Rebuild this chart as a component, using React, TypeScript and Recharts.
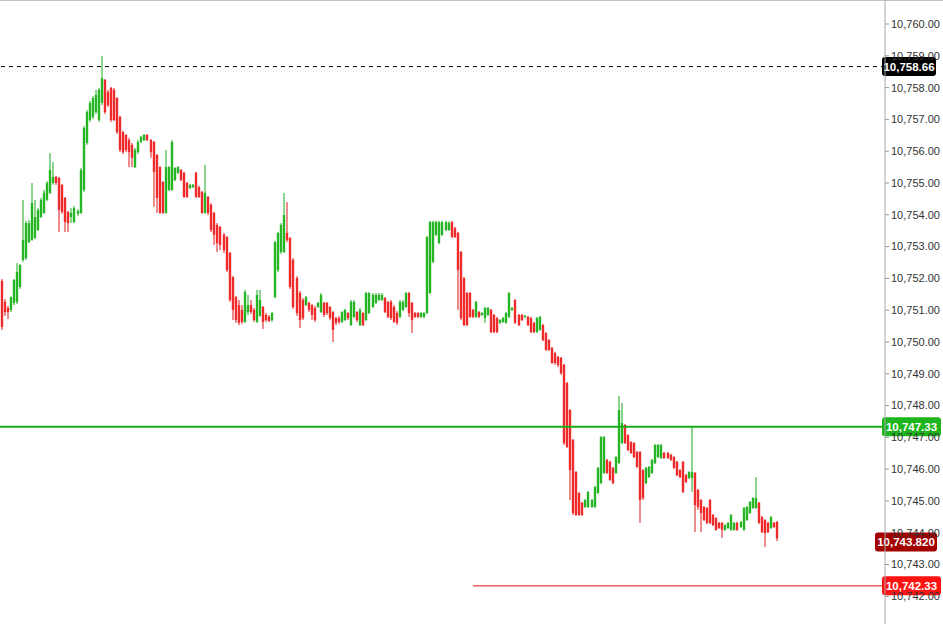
import React from "react";
import { ComposedChart, Bar, XAxis, YAxis, ReferenceLine } from "recharts";

// OHLC, one entry per candle, left to right
const opens = [
  10751.92, 10751.26, 10751.07, 10751.01, 10751.23, 10751.26, 10751.73, 10752.58, 10752.64, 10753.14,
  10753.21, 10753.27, 10753.52, 10753.93, 10754.06, 10754.47, 10754.69, 10755.0, 10755.19, 10755.16,
  10754.94, 10754.53, 10754.09, 10753.93, 10753.77, 10754.03, 10754.06, 10754.78, 10756.26, 10756.98,
  10757.08, 10757.23, 10756.98, 10757.52, 10758.24, 10757.86, 10757.99, 10757.93, 10757.67, 10757.08,
  10756.6, 10756.51, 10756.35, 10756.2, 10755.5, 10755.97, 10756.29, 10756.35, 10756.51, 10756.35,
  10756.29, 10755.88, 10755.5, 10755.03, 10754.06, 10754.78, 10754.78, 10755.09, 10755.32, 10755.41,
  10755.32, 10755.0, 10754.84, 10754.87, 10755.32, 10754.87, 10754.72, 10754.06, 10754.56, 10754.31,
  10754.06, 10753.68, 10753.62, 10753.37, 10753.3, 10752.8, 10752.04, 10751.41, 10751.16, 10751.01,
  10750.63, 10750.94, 10751.16, 10751.01, 10750.63, 10750.82, 10751.1, 10750.85, 10750.79, 10750.69,
  10751.41, 10752.26, 10752.83, 10752.83, 10753.43, 10753.27, 10752.58, 10752.01, 10751.54, 10751.32,
  10751.16, 10751.23, 10751.16, 10751.07, 10751.1, 10750.94, 10751.23, 10751.23, 10751.1, 10750.94,
  10750.75, 10750.75, 10750.63, 10750.69, 10750.91, 10750.53, 10750.79, 10750.94, 10750.53, 10750.91,
  10750.69, 10750.91, 10751.1, 10751.23, 10751.32, 10751.32, 10751.38, 10751.26, 10751.26, 10751.1,
  10750.91, 10750.79, 10751.01, 10751.1, 10751.54, 10751.23, 10750.91, 10750.91, 10750.79, 10750.79,
  10750.91, 10751.54, 10752.52, 10753.37, 10753.11, 10753.37, 10753.52, 10753.52, 10753.77, 10753.58,
  10753.43, 10752.83, 10752.01, 10751.54, 10751.54, 10751.01, 10750.79, 10750.94, 10750.85, 10750.75,
  10750.85, 10751.01, 10750.85, 10750.75, 10750.6, 10750.63, 10750.6, 10750.79, 10751.01, 10751.32,
  10750.85, 10750.85, 10750.79, 10750.79, 10750.75, 10750.6, 10750.31, 10750.38, 10750.53, 10750.28,
  10750.06, 10749.81, 10749.65, 10749.53, 10749.5, 10749.28, 10748.71, 10747.86, 10746.92, 10745.91,
  10745.25, 10744.94, 10744.81, 10744.81, 10744.81, 10744.81, 10745.25, 10745.56, 10745.88, 10746.29,
  10746.23, 10746.04, 10745.88, 10746.19, 10746.82, 10747.39, 10747.07, 10746.85, 10746.82, 10746.54,
  10746.54, 10745.97, 10745.56, 10745.75, 10745.88, 10746.19, 10746.38, 10746.35, 10746.51, 10746.51,
  10746.45, 10746.38, 10746.23, 10745.97, 10746.23, 10745.81, 10745.72, 10745.72, 10745.88, 10745.35,
  10745.03, 10744.81, 10744.78, 10745.03, 10744.56, 10744.46, 10744.31, 10744.31, 10744.09, 10744.15,
  10744.09, 10744.09, 10744.31, 10744.18, 10744.09, 10744.4, 10744.62, 10744.78, 10744.78, 10744.94,
  10744.49, 10744.4, 10744.31, 10744.15, 10744.31, 10744.34,
];

const highs = [
  10751.98, 10751.35, 10751.13, 10751.43, 10751.98, 10752.48, 10752.45, 10754.47, 10753.81, 10753.84,
  10755.0, 10754.47, 10754.21, 10754.53, 10754.78, 10755.06, 10755.94, 10755.66, 10755.22, 10755.19,
  10754.97, 10754.56, 10754.12, 10754.21, 10754.28, 10754.18, 10755.47, 10756.79, 10757.3, 10757.58,
  10757.74, 10757.93, 10757.99, 10758.99, 10758.27, 10757.93, 10758.02, 10757.99, 10757.7, 10757.11,
  10756.64, 10756.54, 10756.42, 10756.26, 10756.1, 10756.35, 10756.48, 10756.54, 10756.54, 10756.38,
  10756.32, 10755.91, 10755.53, 10755.06, 10756.04, 10755.53, 10756.35, 10755.5, 10755.53, 10755.44,
  10755.35, 10755.03, 10754.97, 10754.97, 10755.35, 10754.91, 10754.75, 10755.57, 10754.59, 10754.37,
  10754.09, 10753.74, 10753.65, 10753.43, 10753.33, 10752.83, 10752.07, 10751.45, 10751.32, 10751.16,
  10751.64, 10751.48, 10751.32, 10751.07, 10751.64, 10751.64, 10751.13, 10750.91, 10750.85, 10750.94,
  10753.18, 10753.46, 10753.74, 10754.69, 10754.4, 10753.3, 10752.64, 10752.07, 10751.6, 10751.38,
  10751.45, 10751.26, 10751.19, 10751.13, 10751.26, 10751.54, 10751.26, 10751.26, 10751.13, 10750.97,
  10750.79, 10750.82, 10750.97, 10751.04, 10750.94, 10751.32, 10751.32, 10750.97, 10751.07, 10750.94,
  10751.57, 10751.57, 10751.54, 10751.54, 10751.54, 10751.54, 10751.41, 10751.29, 10751.32, 10751.16,
  10750.97, 10751.32, 10751.32, 10751.57, 10751.57, 10751.26, 10750.94, 10750.94, 10750.94, 10750.94,
  10753.33, 10753.81, 10753.81, 10753.81, 10753.81, 10753.81, 10753.81, 10753.8, 10753.81, 10753.62,
  10753.46, 10752.86, 10752.04, 10751.57, 10751.57, 10751.04, 10751.29, 10750.97, 10750.94, 10751.1,
  10751.1, 10751.04, 10750.88, 10750.79, 10750.72, 10750.79, 10750.94, 10751.57, 10751.1, 10751.35,
  10750.88, 10750.88, 10750.85, 10750.82, 10750.79, 10750.63, 10750.79, 10750.82, 10750.57, 10750.31,
  10750.09, 10749.84, 10749.69, 10749.56, 10749.53, 10749.31, 10748.74, 10747.89, 10746.95, 10745.94,
  10745.28, 10744.97, 10745.06, 10745.31, 10745.06, 10745.47, 10746.07, 10747.04, 10747.04, 10746.32,
  10746.26, 10746.07, 10746.41, 10748.3, 10748.08, 10747.42, 10747.1, 10746.88, 10746.85, 10746.57,
  10746.57, 10746.0, 10746.07, 10746.1, 10746.32, 10746.79, 10746.79, 10746.79, 10746.54, 10746.54,
  10746.48, 10746.41, 10746.26, 10746.0, 10746.26, 10745.85, 10745.94, 10747.33, 10745.91, 10745.38,
  10745.06, 10744.84, 10744.81, 10745.06, 10744.59, 10744.49, 10744.34, 10744.34, 10744.27, 10744.34,
  10744.59, 10744.34, 10744.34, 10744.37, 10744.81, 10744.84, 10745.0, 10745.12, 10745.75, 10744.97,
  10744.53, 10744.43, 10744.34, 10744.53, 10744.34, 10744.37,
];

const lows = [
  10750.38, 10750.82, 10750.72, 10750.94, 10751.16, 10751.19, 10751.67, 10752.52, 10752.58, 10753.11,
  10753.18, 10753.24, 10753.49, 10753.9, 10754.03, 10754.43, 10754.65, 10754.94, 10754.94, 10753.46,
  10754.03, 10753.46, 10753.46, 10753.74, 10753.74, 10753.96, 10754.03, 10754.72, 10756.2, 10756.92,
  10757.01, 10757.17, 10756.92, 10757.45, 10757.17, 10757.39, 10756.92, 10756.95, 10756.54, 10755.97,
  10755.91, 10755.97, 10755.5, 10755.5, 10755.47, 10755.91, 10756.26, 10756.32, 10756.32, 10755.79,
  10754.25, 10754.06, 10754.03, 10754.03, 10754.03, 10754.75, 10754.75, 10755.06, 10755.28, 10755.06,
  10754.53, 10754.53, 10754.81, 10754.84, 10754.53, 10754.53, 10754.03, 10754.03, 10753.99, 10753.46,
  10753.05, 10752.83, 10752.89, 10752.8, 10752.2, 10751.26, 10750.69, 10750.6, 10750.53, 10750.57,
  10750.6, 10750.85, 10750.88, 10750.63, 10750.6, 10750.79, 10750.41, 10750.63, 10750.63, 10750.63,
  10751.38, 10752.2, 10752.77, 10752.8, 10753.14, 10751.67, 10751.04, 10750.82, 10750.44, 10750.69,
  10751.13, 10750.94, 10750.69, 10750.63, 10751.07, 10750.91, 10750.79, 10750.85, 10750.69, 10750.0,
  10750.53, 10750.57, 10750.6, 10750.66, 10750.69, 10750.5, 10750.75, 10750.63, 10750.5, 10750.5,
  10750.66, 10750.88, 10751.07, 10751.19, 10751.29, 10751.29, 10750.91, 10750.75, 10750.69, 10750.6,
  10750.53, 10750.75, 10750.97, 10751.07, 10750.79, 10750.28, 10750.75, 10750.75, 10750.75, 10750.75,
  10750.88, 10751.51, 10752.48, 10753.33, 10753.08, 10753.33, 10753.49, 10753.49, 10753.27, 10753.27,
  10751.01, 10750.69, 10750.5, 10750.5, 10750.75, 10750.75, 10750.75, 10750.75, 10750.82, 10750.6,
  10750.82, 10750.28, 10750.28, 10750.28, 10750.57, 10750.6, 10750.57, 10750.75, 10750.97, 10750.57,
  10750.5, 10750.66, 10750.75, 10750.5, 10750.28, 10750.28, 10750.28, 10750.35, 10750.03, 10749.72,
  10749.72, 10749.31, 10749.28, 10749.21, 10748.96, 10746.76, 10746.67, 10745.03, 10744.56, 10744.53,
  10744.53, 10744.53, 10744.78, 10744.78, 10744.78, 10744.78, 10745.22, 10745.53, 10745.85, 10745.85,
  10745.63, 10745.53, 10745.85, 10746.16, 10746.79, 10746.79, 10746.57, 10746.48, 10746.35, 10746.04,
  10744.31, 10745.03, 10745.53, 10745.72, 10745.85, 10746.16, 10746.35, 10746.32, 10746.32, 10746.32,
  10746.26, 10746.0, 10745.78, 10745.72, 10745.25, 10745.56, 10745.69, 10745.28, 10744.02, 10744.72,
  10744.02, 10744.37, 10744.27, 10744.27, 10744.21, 10744.06, 10744.12, 10743.84, 10744.06, 10744.12,
  10744.06, 10744.06, 10744.06, 10744.15, 10744.06, 10744.37, 10744.59, 10744.75, 10744.75, 10744.27,
  10743.99, 10743.55, 10743.99, 10744.12, 10744.15, 10743.74,
];

const closes = [
  10750.47, 10750.94, 10750.94, 10751.41, 10751.95, 10752.2, 10752.42, 10753.21, 10753.74, 10753.74,
  10754.37, 10753.93, 10754.15, 10754.47, 10754.69, 10755.0, 10755.41, 10755.19, 10755.0, 10754.15,
  10754.09, 10753.77, 10753.74, 10754.06, 10754.21, 10754.12, 10755.41, 10756.73, 10757.23, 10757.52,
  10757.67, 10757.77, 10757.93, 10758.3, 10757.23, 10757.45, 10756.98, 10756.98, 10756.6, 10756.04,
  10755.97, 10756.04, 10755.97, 10755.79, 10756.04, 10756.29, 10756.45, 10756.51, 10756.35, 10755.97,
  10755.35, 10754.53, 10754.06, 10754.06, 10755.5, 10755.5, 10756.29, 10755.47, 10755.5, 10755.09,
  10754.56, 10754.56, 10754.94, 10754.94, 10754.56, 10754.56, 10754.06, 10754.69, 10754.06, 10753.52,
  10753.37, 10753.11, 10753.05, 10752.89, 10752.26, 10751.32, 10751.01, 10750.69, 10750.6, 10750.63,
  10751.57, 10751.16, 10750.94, 10750.69, 10751.48, 10751.32, 10750.63, 10750.69, 10750.66, 10750.91,
  10753.14, 10753.43, 10753.68, 10753.99, 10753.21, 10751.73, 10751.1, 10750.91, 10750.69, 10750.75,
  10751.41, 10751.01, 10750.85, 10750.69, 10751.23, 10751.48, 10750.85, 10750.91, 10750.75, 10750.38,
  10750.6, 10750.63, 10750.94, 10751.01, 10750.75, 10751.26, 10751.26, 10750.69, 10751.01, 10750.53,
  10751.54, 10751.54, 10751.48, 10751.48, 10751.48, 10751.48, 10750.94, 10750.79, 10750.75, 10750.63,
  10750.6, 10751.26, 10751.26, 10751.54, 10750.91, 10750.69, 10750.79, 10750.79, 10750.91, 10750.91,
  10753.3, 10753.77, 10753.77, 10753.77, 10753.77, 10753.77, 10753.77, 10753.74, 10753.3, 10753.3,
  10752.26, 10750.75, 10750.53, 10750.53, 10750.79, 10750.79, 10751.26, 10750.79, 10750.91, 10751.07,
  10751.07, 10750.31, 10750.31, 10750.31, 10750.69, 10750.75, 10750.91, 10751.54, 10751.07, 10750.6,
  10750.53, 10750.69, 10750.82, 10750.53, 10750.31, 10750.31, 10750.75, 10750.79, 10750.06, 10749.75,
  10749.75, 10749.34, 10749.34, 10749.28, 10749.02, 10746.82, 10746.7, 10745.97, 10744.62, 10744.56,
  10744.56, 10744.56, 10745.03, 10745.28, 10745.03, 10745.44, 10746.04, 10747.01, 10747.01, 10745.88,
  10745.66, 10745.56, 10746.38, 10747.86, 10747.45, 10746.82, 10746.6, 10746.51, 10746.38, 10746.07,
  10745.03, 10745.09, 10746.04, 10746.07, 10746.29, 10746.76, 10746.76, 10746.76, 10746.35, 10746.35,
  10746.29, 10746.04, 10745.81, 10745.75, 10745.28, 10745.6, 10745.91, 10745.91, 10744.87, 10744.81,
  10744.62, 10744.4, 10744.31, 10744.31, 10744.24, 10744.09, 10744.15, 10744.09, 10744.24, 10744.31,
  10744.56, 10744.31, 10744.09, 10744.34, 10744.78, 10744.81, 10744.97, 10745.09, 10745.09, 10744.31,
  10744.02, 10743.99, 10744.02, 10744.49, 10744.18, 10743.82,
];

const priceTicks = [
  10742, 10743, 10744, 10745, 10746, 10747, 10748, 10749, 10750, 10751,
  10752, 10753, 10754, 10755, 10756, 10757, 10758, 10759, 10760,
];

const highLine = 10758.66;
const greenLevel = 10747.33;
const redLevel = 10742.33;
const lastPrice = 10743.82;

// empty slots to the right of the last candle
const SLOTS = 291;
const redLineStart = 155;

const rows = Array.from({ length: SLOTS }, (_, i) => ({
  i,
  o: opens[i],
  h: highs[i],
  l: lows[i],
  c: closes[i],
}));

const fmt = (v: number, d = 2) =>
  v.toLocaleString("en-US", { minimumFractionDigits: d, maximumFractionDigits: d });

const FONT = "Arial, 'Liberation Sans', sans-serif";

const Candle = (props: any) => {
  const { x, y, width, height, payload } = props;
  if (payload == null || payload.h == null || !height) return null;
  const { o, h, l, c } = payload;
  const up = c >= o;
  const yOf = (v: number) => y + ((h - v) / (h - l)) * height;
  const cx = Math.round(x + width / 2);
  const top = yOf(Math.max(o, c));
  const bottom = yOf(Math.min(o, c));
  const wick = up ? "#1ea81e" : "#d81818";
  const body = up ? "#25b525" : "#ee2a2a";
  return (
    <g>
      <rect x={cx - 0.5} y={y} width={1} height={height} fill={wick} />
      <rect x={cx - 1.2} y={top} width={2.4} height={Math.max(bottom - top, 1)} fill={body} />
    </g>
  );
};

const tag = (text: string, fill: string, left = 882, w = 54, dy = 0) => (props: any) => {
  const vb = props.viewBox || {};
  const y = (vb.y || 0) + dy;
  return (
    <g>
      <rect x={left} y={y - 9.5} width={w} height={19} rx={3} ry={3} fill={fill} />
      <text
        x={left + w / 2}
        y={y + 0.5}
        fill="#fff"
        fontSize={11.5}
        fontWeight="bold"
        fontFamily={FONT}
        textAnchor="middle"
        dominantBaseline="central"
      >
        {text}
      </text>
    </g>
  );
};

export default function App() {
  return (
    <div style={{ position: "fixed", left: 0, top: 0, width: 943, height: 624, background: "#fff" }}>
      <div style={{ position: "absolute", left: 0, top: 0, width: 943, height: 1, background: "#c4c4c4" }} />
      <ComposedChart
        width={943}
        height={624}
        data={rows}
        margin={{ top: 0, right: 0, bottom: 0, left: 0 }}
        barCategoryGap={0}
        barGap={0}
      >
        <XAxis dataKey="i" hide />
        <YAxis
          orientation="right"
          width={58}
          domain={[10741.13, 10760.755]}
          allowDataOverflow
          ticks={priceTicks}
          interval={0}
          tickFormatter={(v: number) => fmt(v)}
          tick={{ fill: "#333", fontSize: 11, fontFamily: FONT }}
          tickSize={4}
          axisLine={{ stroke: "#a8a8a8" }}
          tickLine={{ stroke: "#999" }}
        />
        <Bar
          dataKey={(d: any) => (d.h == null ? null : [d.l, d.h])}
          shape={<Candle />}
          isAnimationActive={false}
        />
        <ReferenceLine
          y={highLine}
          stroke="#000"
          strokeDasharray="4 4"
          label={tag(fmt(highLine), "#000")}
        />
        <ReferenceLine
          y={greenLevel}
          stroke="#19ad19"
          strokeWidth={2}
          label={tag(fmt(greenLevel), "#1db41d", 882, 59)}
        />
        <ReferenceLine
          segment={[
            { x: redLineStart, y: redLevel },
            { x: SLOTS - 1, y: redLevel },
          ]}
          stroke="#e01010"
          strokeWidth={1}
          label={tag(fmt(redLevel), "#ff1212", 882, 59)}
        />
        <ReferenceLine
          y={lastPrice}
          stroke="none"
          label={tag(fmt(lastPrice, 3), "#a30000", 875, 62, 3.5)}
        />
      </ComposedChart>
    </div>
  );
}
